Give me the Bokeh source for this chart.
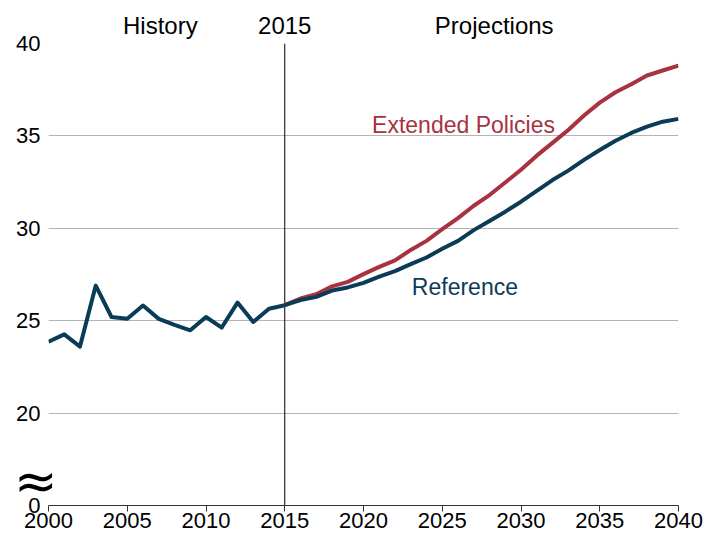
from bokeh.plotting import figure
from bokeh.models import Label, FixedTicker, Range1d, LinearAxis
from bokeh.embed import file_html
from bokeh.resources import INLINE

# ---- data ----
hist_years = list(range(2000, 2016))
history = [23.86, 24.26, 23.60, 26.90, 25.20, 25.11, 25.82, 25.10, 24.77, 24.48,
           25.20, 24.63, 25.98, 24.93, 25.65, 25.84]

proj_years = list(range(2015, 2041))
reference = [25.84, 26.12, 26.29, 26.63, 26.80, 27.05, 27.39, 27.68, 28.06, 28.42,
             28.89, 29.32, 29.90, 30.40, 30.90, 31.44, 32.03, 32.61, 33.12, 33.70,
             34.24, 34.74, 35.16, 35.50, 35.77, 35.92]
extended = [25.84, 26.20, 26.43, 26.86, 27.10, 27.52, 27.91, 28.26, 28.83, 29.32,
            29.95, 30.55, 31.22, 31.80, 32.48, 33.17, 33.93, 34.62, 35.32, 36.10,
            36.80, 37.36, 37.80, 38.27, 38.54, 38.80]

x_ticks = [2000, 2005, 2010, 2015, 2020, 2025, 2030, 2035, 2040]
y_ticks = [15, 20, 25, 30, 35, 40]
y_tick_labels = {15: "0", 20: "20", 25: "25", 30: "30", 35: "35", 40: "40"}
break_pos = [16.35]
break_text = ["≈"]
divider_year = 2015
header_pos = [2007.1, 2015, 2028.3]
header_text = ["History", "2015", "Projections"]

BLUE = "#0b3c57"
RED = "#a8323f"
FONT = "Liberation Sans"

p = figure(width=712, height=537, output_backend="svg", toolbar_location=None,
           x_range=Range1d(2000, 2040), y_range=Range1d(15, 40),
           min_border_left=48, min_border_right=34, min_border_top=43,
           min_border_bottom=32)
p.outline_line_color = None
p.background_fill_color = "white"
p.border_fill_color = "white"

# grid
p.xgrid.grid_line_color = None
p.ygrid.grid_line_color = "#b4b4b4"
p.ygrid.grid_line_width = 1

# x axis
p.xaxis.ticker = FixedTicker(ticks=x_ticks)
p.xaxis.minor_tick_line_color = None
p.xaxis.major_tick_in = 0
p.xaxis.major_tick_out = 6
p.xaxis.axis_line_color = "#333333"
p.xaxis.major_tick_line_color = "#333333"
p.xaxis.major_label_text_font = FONT
p.xaxis.major_label_text_font_size = "22px"
p.xaxis.major_label_text_color = "black"
p.xaxis.major_label_standoff = 1

# y axis
p.yaxis.ticker = FixedTicker(ticks=y_ticks)
p.yaxis.major_label_overrides = y_tick_labels
p.yaxis.minor_tick_line_color = None
p.yaxis.major_tick_in = 0
p.yaxis.major_tick_out = 0
p.yaxis.axis_line_color = None
p.yaxis.major_label_text_font = FONT
p.yaxis.major_label_text_font_size = "22px"
p.yaxis.major_label_text_color = "black"
p.yaxis.major_label_standoff = 8

# axis-break symbol as an outer left axis
brk = LinearAxis(ticker=FixedTicker(ticks=break_pos),
                 major_label_overrides=dict(zip(break_pos, break_text)))
brk.axis_line_color = None
brk.major_tick_line_color = None
brk.minor_tick_line_color = None
brk.major_tick_in = 0
brk.major_tick_out = 0
brk.major_label_standoff = -44
brk.major_label_text_font = "'DejaVu Sans ExtraLight', 'DejaVu Sans'"
brk.major_label_text_font_size = "52px"
brk.major_label_text_color = "black"
p.add_layout(brk, "left")

# header labels as a top axis
top = LinearAxis(ticker=FixedTicker(ticks=header_pos),
                 major_label_overrides=dict(zip(header_pos, header_text)))
top.axis_line_color = None
top.major_tick_line_color = None
top.minor_tick_line_color = None
top.major_tick_in = 0
top.major_tick_out = 0
top.major_label_standoff = 5
top.major_label_text_font = FONT
top.major_label_text_font_size = "24px"
top.major_label_text_color = "black"
p.add_layout(top, "above")

# divider line 2015 (from axis to top)
p.segment(x0=[divider_year], y0=[15], x1=[divider_year], y1=[40], line_color="black", line_width=1)

# lines
p.line(proj_years, extended, line_color=RED, line_width=4, line_join="round")
p.line(proj_years, reference, line_color=BLUE, line_width=4, line_join="round")
p.line(hist_years, history, line_color=BLUE, line_width=4, line_join="round")

# series labels
p.add_layout(Label(x=2026.35, y=35.61, text="Extended Policies", text_align="center",
                   text_baseline="middle", text_font=FONT, text_font_size="23px", text_color=RED))
p.add_layout(Label(x=2026.44, y=26.83, text="Reference", text_align="center",
                   text_baseline="middle", text_font=FONT, text_font_size="23px", text_color=BLUE))

open("out.html", "w").write(file_html(p, INLINE))
